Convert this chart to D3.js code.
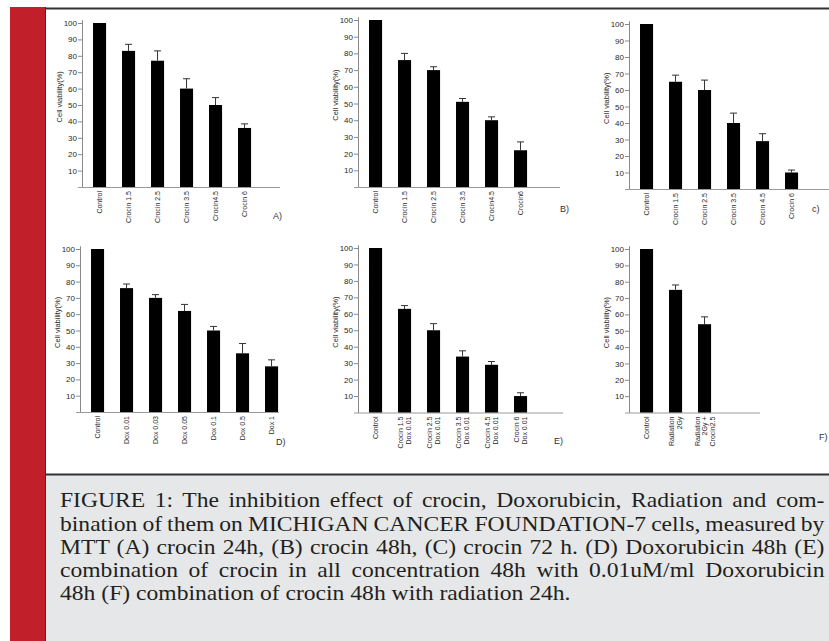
<!DOCTYPE html>
<html>
<head>
<meta charset="utf-8">
<script src="https://cdn.jsdelivr.net/npm/d3@7"></script>
<style>
  html, body { margin: 0; padding: 0; background: #fff; }
  svg { display: block; }
</style>
</head>
<body>
<svg id="fig" width="829" height="641"></svg>
<script>
// ---- data ----
const catsA = ["Control", "Crocin 1.5", "Crocin 2.5", "Crocin 3.5", "Crocin4.5", "Crocin 6"];
const valsA = [100, 83, 77, 60, 50, 36];
const errA  = [0, 4, 6, 6, 4.5, 2.5];

const catsB = ["Control", "Crocin 1.5", "Crocin 2.5", "Crocin 3.5", "Crocin4.5", "Crocin6"];
const valsB = [100, 76, 70, 51, 40, 22];
const errB  = [0, 4, 2, 2, 2, 5];

const catsC = ["Control", "Crocin 1.5", "Crocin 2.5", "Crocin 3.5", "Crocin 4.5", "Crocin 6"];
const valsC = [100, 65, 60, 40, 29, 10];
const errC  = [0, 4, 6, 6, 4.5, 1.5];

const catsD = ["Control", "Dox 0.01", "Dox 0.03", "Dox 0.05", "Dox 0.1", "Dox 0.5", "Dox 1"];
const valsD = [100, 76, 70, 62, 50, 36, 28];
const errD  = [0, 2.5, 2, 4, 2.5, 6, 4];

const catsE = ["Control", "Crocin 1.5\nDox 0.01", "Crocin 2.5\nDox 0.01", "Crocin 3.5\nDox 0.01", "Crocin 4.5\nDox 0.01", "Crocin 6\nDox 0.01"];
const valsE = [100, 63, 50, 34, 29, 10];
const errE  = [0, 2, 4, 3.5, 2, 2];

const catsF = ["Control", "Radiation\n2Gy", "Radiation\n2Gy +\nCrocin2.5"];
const valsF = [100, 75, 54];
const errF  = [0, 3, 4.5];

const yTicks = [10, 20, 30, 40, 50, 60, 70, 80, 90, 100];
const yTitle = "Cell viability(%)";

const captionLines = [
  "FIGURE 1: The inhibition effect of crocin, Doxorubicin, Radiation and com-",
  "bination of them on MICHIGAN CANCER FOUNDATION-7 cells, measured by",
  "MTT (A) crocin 24h, (B) crocin 48h, (C) crocin 72 h. (D) Doxorubicin 48h (E)",
  "combination of crocin in all concentration 48h with 0.01uM/ml Doxorubicin",
  "48h (F) combination of crocin 48h with radiation 24h."
];

// ---- panel placement ----
const panels = [
  { tag: "A)",  cats: catsA, vals: valsA, err: errA, ax: 82,  y0: 187,   y100: 23,  xEnd: 280, tagX: 273, tagY: 219 },
  { tag: "B)",  cats: catsB, vals: valsB, err: errB, ax: 358, y0: 187,   y100: 20,  xEnd: 560, tagX: 560, tagY: 212 },
  { tag: "c)",  cats: catsC, vals: valsC, err: errC, ax: 629, y0: 189,   y100: 24,  xEnd: 829, tagX: 812, tagY: 212 },
  { tag: "D)",  cats: catsD, vals: valsD, err: errD, ax: 80,  y0: 412,   y100: 249, xEnd: 279, tagX: 276, tagY: 445 },
  { tag: "E)",  cats: catsE, vals: valsE, err: errE, ax: 358, y0: 412.5, y100: 248, xEnd: 563, tagX: 554, tagY: 444 },
  { tag: "F)",  cats: catsF, vals: valsF, err: errF, ax: 629, y0: 412.5, y100: 249, xEnd: 760, tagX: 819, tagY: 440 }
];

const svg = d3.select("#fig");
const sans = "'Liberation Sans', Arial, sans-serif";

// frame
svg.append("rect").attr("x", 10).attr("y", 7).attr("width", 35).attr("height", 634).attr("fill", "#c1202a");
svg.append("rect").attr("x", 45).attr("y", 475).attr("width", 784).attr("height", 166).attr("fill", "#e6e7e8");
svg.append("line").attr("x1", 45).attr("x2", 829).attr("y1", 8.5).attr("y2", 8.5).attr("stroke", "#333").attr("stroke-width", 1.8);
svg.append("line").attr("x1", 45).attr("x2", 829).attr("y1", 474.5).attr("y2", 474.5).attr("stroke", "#333").attr("stroke-width", 1.8);
svg.append("line").attr("x1", 45.5).attr("x2", 45.5).attr("y1", 7).attr("y2", 641).attr("stroke", "#333").attr("stroke-width", 1);

const step = 29, pIn = 0.55, pOut = 0.38;

panels.forEach(p => {
  const g = svg.append("g");
  const n = p.cats.length;

  const x = d3.scaleBand()
    .domain(p.cats)
    .range([p.ax, p.ax + step * (n - pIn + 2 * pOut)])
    .paddingInner(pIn)
    .paddingOuter(pOut);

  const k = (p.y0 - p.y100) / 100;
  const y = d3.scaleLinear()
    .domain([0, 102])
    .range([p.y0, p.y0 - 102 * k]);

  // y axis
  const yAxis = g.append("g")
    .attr("transform", `translate(${p.ax},0)`)
    .call(d3.axisLeft(y).tickValues(yTicks).tickSize(4).tickSizeOuter(0).tickPadding(1));
  yAxis.select(".domain").attr("stroke", "#8a8a8a");
  yAxis.selectAll(".tick line").attr("stroke", "#8a8a8a");
  yAxis.selectAll(".tick text")
    .attr("font-family", sans).attr("font-size", 8).attr("fill", "#2a2a2a");

  // x axis line
  g.append("line")
    .attr("x1", p.ax - 4).attr("x2", p.xEnd)
    .attr("y1", p.y0 + 0.5).attr("y2", p.y0 + 0.5)
    .attr("stroke", "#9a9a9a").attr("stroke-width", 1.2);

  // bars
  g.selectAll("rect.bar").data(p.vals).join("rect")
    .attr("class", "bar")
    .attr("x", (d, i) => x(p.cats[i]))
    .attr("width", x.bandwidth())
    .attr("y", d => y(d))
    .attr("height", d => y(0) - y(d))
    .attr("fill", "#000");

  // error bars
  const eb = g.selectAll("g.err").data(p.vals.map((v, i) => ({ v, e: p.err[i], c: p.cats[i] })).filter(d => d.e > 0))
    .join("g").attr("class", "err");
  eb.append("line")
    .attr("x1", d => x(d.c) + x.bandwidth() / 2).attr("x2", d => x(d.c) + x.bandwidth() / 2)
    .attr("y1", d => y(d.v)).attr("y2", d => y(d.v + d.e))
    .attr("stroke", "#333").attr("stroke-width", 1);
  eb.append("line")
    .attr("x1", d => x(d.c) + x.bandwidth() / 2 - 3.5).attr("x2", d => x(d.c) + x.bandwidth() / 2 + 3.5)
    .attr("y1", d => y(d.v + d.e)).attr("y2", d => y(d.v + d.e))
    .attr("stroke", "#333").attr("stroke-width", 1);

  // category labels, rotated
  p.cats.forEach(c => {
    const lines = c.split("\n");
    const cx = x(c) + x.bandwidth() / 2;
    const t = g.append("text")
      .attr("transform", `translate(${cx},${p.y0 + 4}) rotate(-90)`)
      .attr("text-anchor", "end")
      .attr("font-family", sans).attr("font-size", 7).attr("fill", "#2a2a2a");
    lines.forEach((ln, j) => {
      t.append("tspan")
        .attr("x", 0)
        .attr("y", (j - (lines.length - 1) / 2) * 7.5 + 2.5)
        .text(ln);
    });
  });

  // y title
  g.append("text")
    .attr("transform", `translate(${p.ax - 20},${y(55)}) rotate(-90)`)
    .attr("text-anchor", "middle")
    .attr("font-family", sans).attr("font-size", 7.5).attr("fill", "#2a2a2a")
    .text(yTitle);

  // panel tag
  g.append("text")
    .attr("x", p.tagX).attr("y", p.tagY)
    .attr("font-family", sans).attr("font-size", 9).attr("fill", "#333")
    .text(p.tag);
});

// caption: widen the glyphs a little, then justify with word gaps
const capBase = [507, 531, 554, 577, 600];
const capWidth = 765;
const cap = svg.append("g")
  .attr("font-family", "'Liberation Serif', 'Times New Roman', serif")
  .attr("font-size", 21).attr("fill", "#231f20");
const capTexts = captionLines.map((ln, i) =>
  cap.append("text").attr("x", 0).attr("y", 0).text(ln));
const widths = capTexts.map(t => t.node().getComputedTextLength());
const sx = d3.mean(widths.slice(0, 4), w => capWidth / w) * 0.97;
capTexts.forEach((t, i) => {
  t.attr("transform", `translate(60,${capBase[i]}) scale(${sx},1)`);
  if (i < captionLines.length - 1) {
    const gaps = captionLines[i].split(" ").length - 1;
    t.style("word-spacing", ((capWidth / sx - widths[i]) / gaps) + "px");
  }
});
</script>
</body>
</html>
